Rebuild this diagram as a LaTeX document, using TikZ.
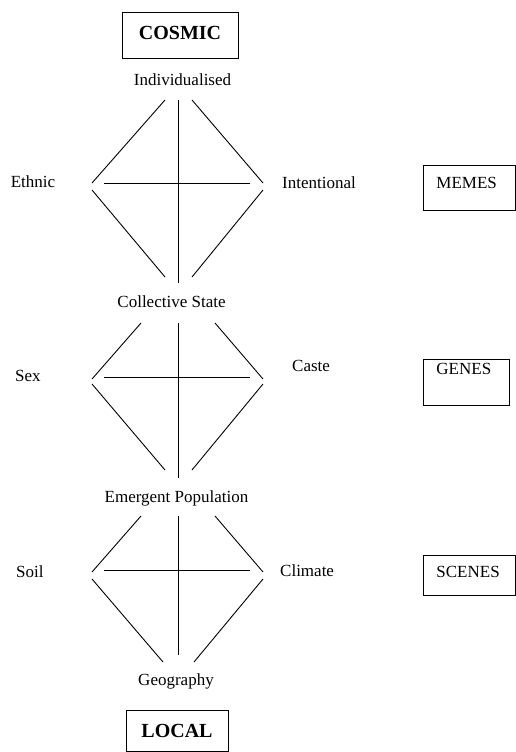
\documentclass[tikz,border=0pt]{standalone}
\usepackage{fontspec}
\setmainfont{Liberation Serif}
\begin{document}
\begin{tikzpicture}[x=1pt,y=-1pt,
  lbl/.style={font=\fontsize{17}{19}\selectfont, inner sep=0pt, anchor=base},
  ln/.style={line width=0.9pt},
  bigbox/.style={draw, line width=0.9pt, font=\bfseries\fontsize{20}{22}\selectfont, inner xsep=0pt, inner ysep=0pt, align=center},
  sidebox/.style={draw, line width=0.9pt, font=\fontsize{17}{19}\selectfont, inner xsep=13pt, inner ysep=0pt, align=left, anchor=north west}]
\useasboundingbox (0,0) rectangle (516,752);
% top and bottom boxes
\node[bigbox, text width=116pt, text height=26.6pt, text depth=19.4pt, anchor=north] (cosmic) at (180,12) {COSMIC};
\node[bigbox, text width=102pt, text height=26.6pt, text depth=14.4pt, anchor=north] (local) at (177,710) {LOCAL};
% side boxes
\node[sidebox, text width=66pt, text height=22.6pt, text depth=22.4pt] (memes) at (423,165) {MEMES};
\node[sidebox, text width=60pt, text height=14.6pt, text depth=31.4pt] (genes) at (423,359) {GENES};
\node[sidebox, text width=66pt, text height=21.6pt, text depth=18.4pt] (scenes) at (423,555) {SCENES};
% labels
\node[lbl] (indiv) at (182.5,85.6) {Individualised};
\node[lbl, anchor=base west] (intent) at (282,188.6) {Intentional};
\node[lbl] (ethnic) at (33,187.6) {Ethnic};
\node[lbl] (coll) at (171.5,307.6) {Collective State};
\node[lbl, anchor=base west] (caste) at (292,371.6) {Caste};
\node[lbl, anchor=base west] (sex) at (15,381.6) {Sex};
\node[lbl] (emerg) at (176.5,502.6) {Emergent Population};
\node[lbl, anchor=base west] (climate) at (280,576.6) {Climate};
\node[lbl, anchor=base west] (soil) at (16,577.6) {Soil};
\node[lbl] (geo) at (176,685.6) {Geography};
% diamond 1
\coordinate (a1) at (165,100); \coordinate (a2) at (92,183);
\coordinate (a3) at (192,100); \coordinate (a4) at (263,183);
\coordinate (a5) at (92,190);  \coordinate (a6) at (165,277);
\coordinate (a7) at (263,190); \coordinate (a8) at (192,277);
\coordinate (a9) at (178,100); \coordinate (a10) at (178,283);
\coordinate (a11) at (104,183); \coordinate (a12) at (250,183);
\draw[ln] (a1) -- (a2); \draw[ln] (a3) -- (a4);
\draw[ln] (a5) -- (a6); \draw[ln] (a7) -- (a8);
\draw[ln] (a9) -- (a10); \draw[ln] (a11) -- (a12);
% diamond 2
\coordinate (b1) at (141,323); \coordinate (b2) at (92,379);
\coordinate (b3) at (215,323); \coordinate (b4) at (263,379);
\coordinate (b5) at (92,384);  \coordinate (b6) at (165,470);
\coordinate (b7) at (263,384); \coordinate (b8) at (192,470);
\coordinate (b9) at (178,323); \coordinate (b10) at (178,478);
\coordinate (b11) at (104,377); \coordinate (b12) at (250,377);
\draw[ln] (b1) -- (b2); \draw[ln] (b3) -- (b4);
\draw[ln] (b5) -- (b6); \draw[ln] (b7) -- (b8);
\draw[ln] (b9) -- (b10); \draw[ln] (b11) -- (b12);
% diamond 3
\coordinate (c1) at (141,516); \coordinate (c2) at (92,572);
\coordinate (c3) at (215,516); \coordinate (c4) at (263,572);
\coordinate (c5) at (92,579);  \coordinate (c6) at (163,662);
\coordinate (c7) at (263,579); \coordinate (c8) at (194,662);
\coordinate (c9) at (178,516); \coordinate (c10) at (178,655);
\coordinate (c11) at (104,570); \coordinate (c12) at (250,570);
\draw[ln] (c1) -- (c2); \draw[ln] (c3) -- (c4);
\draw[ln] (c5) -- (c6); \draw[ln] (c7) -- (c8);
\draw[ln] (c9) -- (c10); \draw[ln] (c11) -- (c12);
\end{tikzpicture}
\end{document}
